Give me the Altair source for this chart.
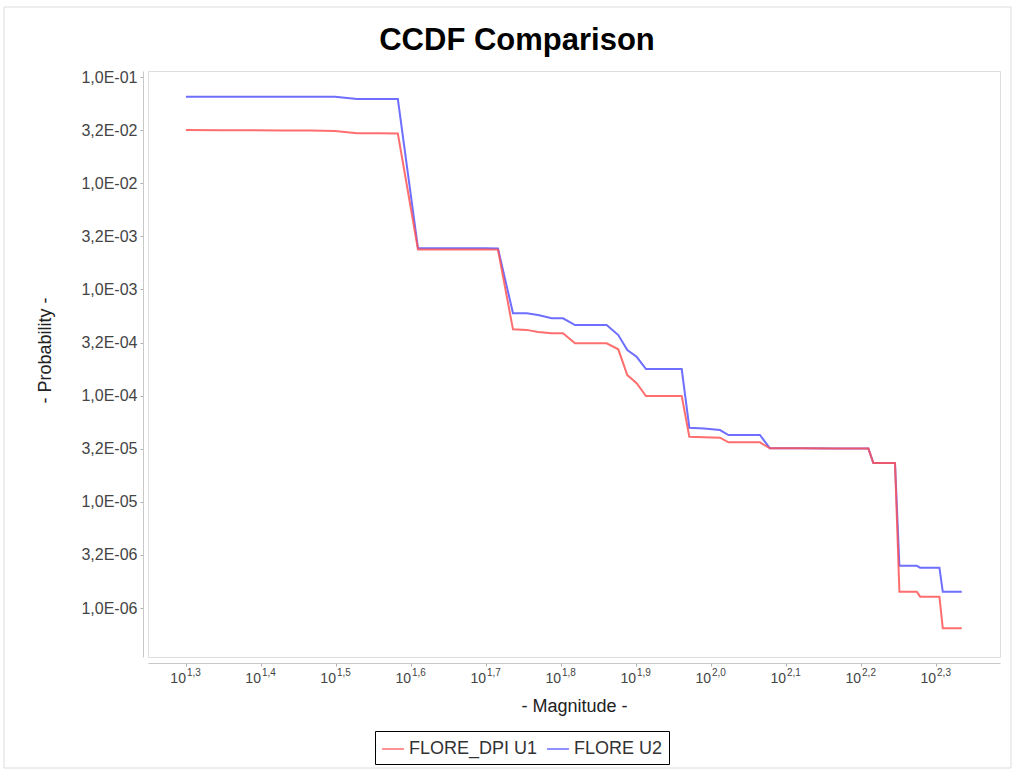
import altair as alt
import pandas as pd

# Magnitude grid shared by both CCDF curves
magnitude = [19.95, 22.26, 24.51, 26.88, 29.20, 31.53, 33.73, 35.97, 38.24,
             40.68, 42.99, 45.24, 47.56, 49.95, 52.00,
             54.45, 56.80, 58.80, 61.33, 63.49, 65.87, 68.97, 72.59,
             75.23, 77.34, 79.59, 81.90, 86.56, 91.40,
             93.56, 97.88, 102.8, 105.5, 110.7, 116.2,
             119.8, 131.4, 146.3, 162.1, 164.6, 175.9,
             178.3, 188.1, 190.0, 201.6, 203.7, 215.9]

flore_u2 = [0.0652, 0.0652, 0.0652, 0.0652, 0.0651, 0.0650, 0.0621, 0.0621, 0.0620,
            0.00244, 0.00244, 0.00244, 0.00244, 0.00244, 0.00243,
            5.96e-4, 5.95e-4, 5.74e-4, 5.35e-4, 5.35e-4, 4.62e-4, 4.62e-4, 4.62e-4,
            3.72e-4, 2.69e-4, 2.32e-4, 1.78e-4, 1.78e-4, 1.78e-4,
            4.99e-5, 4.90e-5, 4.74e-5, 4.26e-5, 4.26e-5, 4.26e-5,
            3.19e-5, 3.19e-5, 3.18e-5, 3.17e-5, 2.32e-5, 2.32e-5,
            2.50e-6, 2.50e-6, 2.40e-6, 2.40e-6, 1.42e-6, 1.42e-6]

flore_dpi_u1 = [0.0317, 0.0316, 0.0315, 0.0314, 0.0313, 0.0310, 0.0295, 0.0295, 0.0294,
                0.00238, 0.00238, 0.00238, 0.00238, 0.00238, 0.00237,
                4.21e-4, 4.16e-4, 3.98e-4, 3.86e-4, 3.86e-4, 3.11e-4, 3.11e-4, 3.11e-4,
                2.73e-4, 1.56e-4, 1.31e-4, 9.91e-5, 9.91e-5, 9.91e-5,
                4.10e-5, 4.06e-5, 4.02e-5, 3.63e-5, 3.63e-5, 3.63e-5,
                3.19e-5, 3.19e-5, 3.18e-5, 3.17e-5, 2.32e-5, 2.32e-5,
                1.42e-6, 1.42e-6, 1.28e-6, 1.28e-6, 6.44e-7, 6.44e-7]

series_names = ["FLORE_DPI U1", "FLORE U2"]
series_colors = ["#FF5555", "#5555FF"]

y_tick_values = [1e-1, 3.1623e-2, 1e-2, 3.1623e-3, 1e-3, 3.1623e-4,
                 1e-4, 3.1623e-5, 1e-5, 3.1623e-6, 1e-6]
y_tick_labels = ["1,0E-01", "3,2E-02", "1,0E-02", "3,2E-03", "1,0E-03", "3,2E-04",
                 "1,0E-04", "3,2E-05", "1,0E-05", "3,2E-06", "1,0E-06"]

x_tick_values = [19.953, 25.119, 31.623, 39.811, 50.119, 63.096,
                 79.433, 100.0, 125.89, 158.49, 199.53]
x_tick_exponents = ["1,3", "1,4", "1,5", "1,6", "1,7", "1,8",
                    "1,9", "2,0", "2,1", "2,2", "2,3"]

W, H = 852, 586
FONT = "Liberation Sans"
TICK_GREY = "#444444"

df = pd.DataFrame({
    "magnitude": magnitude * 2,
    "probability": flore_dpi_u1 + flore_u2,
    "series": [series_names[0]] * len(magnitude) + [series_names[1]] * len(magnitude),
})
tick_df = pd.DataFrame({"magnitude": x_tick_values, "base": ["10"] * len(x_tick_values),
                        "exp": x_tick_exponents})

x_scale = alt.Scale(type="log", domain=[17.76, 242.8], nice=False)
y_scale = alt.Scale(type="log", domain=[3.46e-7, 0.1139], nice=False)
color_scale = alt.Scale(domain=series_names, range=series_colors)

y_label_expr = ("[" + ",".join(f"'{s}'" for s in y_tick_labels) + "][indexof(["
                + ",".join(repr(v) for v in y_tick_values) + "], datum.value)]")

x_axis = alt.Axis(
    values=x_tick_values, labels=False,
    offset=6, domainColor="#c8c8c8", tickColor="#b0b0b0", tickSize=3, grid=False,
    title="- Magnitude -", titleFont=FONT, titleFontSize=18, titleFontWeight="normal",
    titleColor="#222222", titleY=43, titleBaseline="middle",
)
y_axis = alt.Axis(
    values=y_tick_values, labelExpr=y_label_expr,
    labelFontSize=16, labelFont=FONT, labelColor=TICK_GREY, labelPadding=3,
    offset=5, domainColor="#c8c8c8", tickColor="#b0b0b0", tickSize=3, grid=False,
    title="- Probability -", titleFont=FONT, titleFontSize=18, titleFontWeight="normal",
    titleColor="#222222", titleX=-98, titleY=H / 2 - 14, titleAngle=-90,
    titleAlign="center", titleBaseline="middle",
)
legend = alt.Legend(
    title=None, orient="none", legendX=227, legendY=660, direction="horizontal",
    symbolType="stroke", symbolSize=480, symbolStrokeWidth=1.5,
    labelFont=FONT, labelFontSize=18, labelColor="#333333",
    strokeColor="black", fillColor="white", padding=6, columnPadding=6, labelOffset=4,
)

x_enc = alt.X("magnitude:Q", scale=x_scale, axis=x_axis)


def series_layer(name):
    return alt.Chart(df).transform_filter(alt.datum.series == name).mark_line(
        strokeWidth=2, opacity=0.85
    ).encode(
        x=x_enc,
        y=alt.Y("probability:Q", scale=y_scale, axis=y_axis),
        color=alt.Color("series:N", scale=color_scale, legend=legend),
    )


# light outer frame around the whole figure
frame = alt.Chart(pd.DataFrame({"k": [0]})).mark_rect(
    filled=False, stroke="#dcdcdc", strokeWidth=1
).encode(x=alt.value(-144), x2=alt.value(863), y=alt.value(-64), y2=alt.value(697))

# "10" with a superscript exponent under each magnitude tick
tick_base = alt.Chart(tick_df).mark_text(
    align="right", baseline="alphabetic", fontSize=14, font=FONT, color=TICK_GREY
).encode(x=x_enc, y=alt.value(H + 26), text="base:N")

tick_exp = alt.Chart(tick_df).mark_text(
    align="left", baseline="alphabetic", fontSize=10, font=FONT, color=TICK_GREY, dx=1
).encode(x=x_enc, y=alt.value(H + 19), text="exp:N")

title = alt.Chart(pd.DataFrame({"t": ["CCDF Comparison"]})).mark_text(
    align="center", baseline="alphabetic", fontSize=31, fontWeight="bold",
    font=FONT, color="black"
).encode(x=alt.value(W / 2 - 57), y=alt.value(-21), text="t:N")

chart = alt.layer(
    frame, series_layer("FLORE U2"), series_layer("FLORE_DPI U1"),
    tick_base, tick_exp, title
).properties(
    width=W, height=H,
    autosize=alt.AutoSizeParams(type="none"),
    padding={"left": 148, "top": 71, "right": 16, "bottom": 114},
).configure_view(stroke="#888888", strokeWidth=1).configure(background="white")

chart.save("out.html", embed_options={"renderer": "svg", "actions": False})
